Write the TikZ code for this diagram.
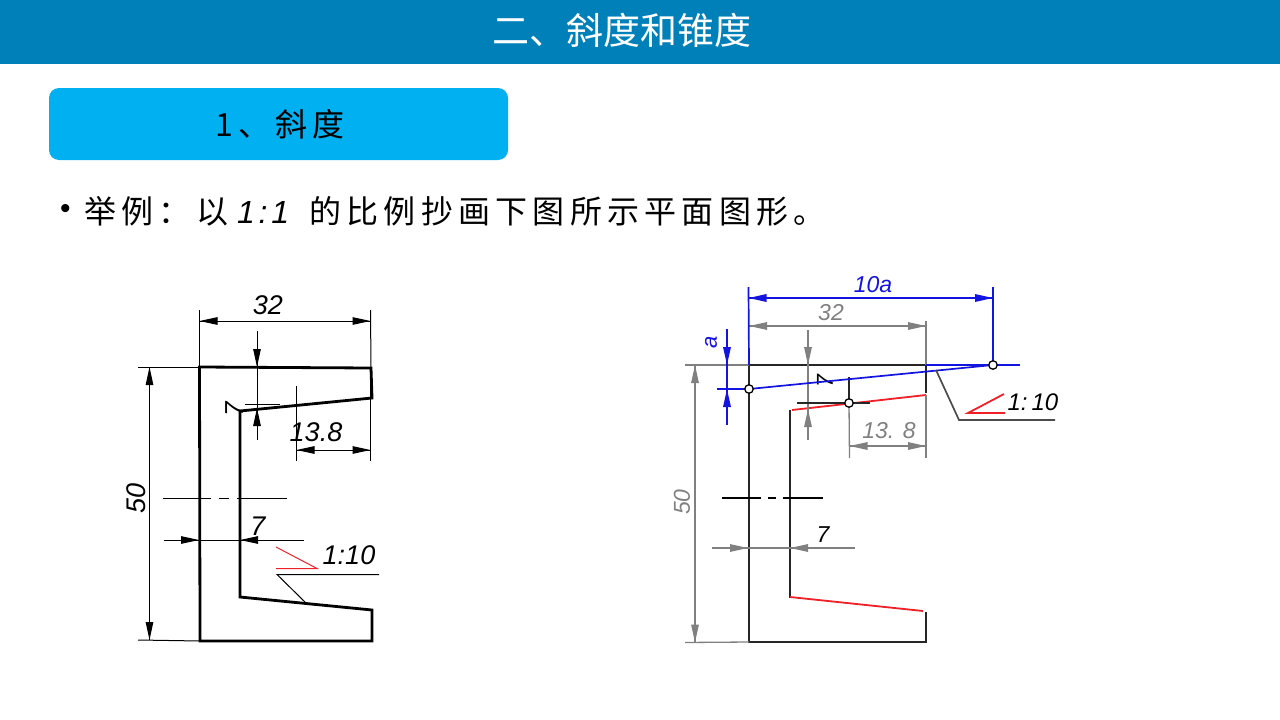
\documentclass[tikz,border=0pt]{standalone}
\usepackage{fontspec}
\setmainfont{Liberation Sans}
\newfontfamily\cjk{Noto Sans CJK SC}
\newfontfamily\cjkwide[LetterSpace=16.5]{Noto Sans CJK SC}
\newfontfamily\latinwide[LetterSpace=12]{Liberation Sans}
\usetikzlibrary{arrows.meta}
\definecolor{barblue}{HTML}{0080B9}
\definecolor{boxblue}{HTML}{00B0F0}
\definecolor{dimgray}{HTML}{808080}
\definecolor{slopered}{HTML}{F02028}
\definecolor{guideblue}{HTML}{1414E0}
\tikzstyle{outline}=[line width=2.8pt,black,line join=miter]
\tikzstyle{thinline}=[line width=1pt,black]
\tikzstyle{tiponly}=[-{Triangle[length=18pt,width=7.5pt]}]
\tikzstyle{graydim}=[line width=1.3pt,dimgray]
\tikzstyle{bluedim}=[line width=1.7pt,guideblue]
\tikzstyle{plainline}=[line width=1.5pt,black!85]
\tikzstyle{redline}=[line width=1.8pt,slopered]
\tikzstyle{dimtext}=[font=\itshape\fontsize{27}{27}\selectfont,inner sep=0pt]
\tikzstyle{smalltext}=[font=\itshape\fontsize{23}{23}\selectfont,inner sep=0pt]
\tikzstyle{pointmark}=[circle,draw=black,fill=white,line width=1.3pt,minimum size=8.5pt,inner sep=0pt]

\begin{document}
\begin{tikzpicture}[x=1pt,y=-1pt]
\useasboundingbox (0,0) rectangle (1280,720);
\node[fill=barblue,minimum width=1280pt,minimum height=64pt,inner sep=0pt] at (640,32) (bar) {};
\node[text=white,font=\cjk\fontsize{37}{37}\selectfont] at (622,30) (title) {二、斜度和锥度};
\node[fill=boxblue,rounded corners=10pt,minimum width=459pt,minimum height=72pt,inner sep=0pt] at (278.5,124) (box) {};
\node[font=\cjkwide\fontsize{32}{32}\selectfont] at (280,124) (section) {1、斜度};
\node[inner sep=0pt,font=\fontsize{30}{30}\selectfont] at (65.5,211) (bullet) {•};
\node[anchor=west,inner sep=0pt,font=\cjkwide\fontsize{32}{32}\selectfont] at (84,211) (sentence) {举例：以\hspace{9pt}{\latinwide\itshape 1:1}\hspace{20pt}的比例抄画下图所示平面图形。};

\coordinate (la) at (199.5,367);
\coordinate (lb) at (371,368);
\coordinate (lc) at (372,398);
\coordinate (ld) at (240,411);
\coordinate (le) at (240,597);
\coordinate (lf) at (372,610);
\coordinate (lg) at (372,641);
\coordinate (lh) at (200,641);
\draw[outline] (la) -- (lb) -- (lc) -- (ld) -- (le) -- (lf) -- (lg) -- (lh) -- cycle;

\coordinate (top1) at (199.5,310);
\coordinate (top2) at (370.5,310);
\coordinate (dim1) at (199.5,321);
\coordinate (dim2) at (370.5,321);
\coordinate (dim1b) at (217.5,321);
\coordinate (dim2b) at (352.5,321);
\draw[thinline] (top1) -- (la);
\draw[thinline] (top2) -- (lb);
\draw[thinline] (dim1) -- (dim2);
\draw[thinline,tiponly] (dim1b) -- (dim1);
\draw[thinline,tiponly] (dim2b) -- (dim2);
\node[dimtext] at (268,305) (l32) {32};

\coordinate (th1) at (257,331);
\coordinate (th2) at (257,440);
\coordinate (th1b) at (257,349);
\coordinate (th1t) at (257,367);
\coordinate (th2b) at (257,423);
\coordinate (th2t) at (257,408);
\coordinate (thx1) at (245,404);
\coordinate (thx2) at (280,404);
\draw[thinline] (th1) -- (th2);
\draw[thinline,tiponly] (th1b) -- (th1t);
\draw[thinline,tiponly] (th2b) -- (th2t);
\draw[thinline] (thx1) -- (thx2);
\node[font=\itshape\fontsize{26}{26}\selectfont,inner sep=0pt,rotate=90] at (235,409) (lseven) {7};

\coordinate (m1) at (296.5,386);
\coordinate (m2) at (296.5,461);
\coordinate (m3) at (370.5,368);
\coordinate (m4) at (370.5,461);
\coordinate (m5) at (296.5,450);
\coordinate (m6) at (370.5,450);
\coordinate (m5b) at (314.5,450);
\coordinate (m6b) at (352.5,450);
\draw[thinline] (m1) -- (m2);
\draw[thinline] (m3) -- (m4);
\draw[thinline] (m5) -- (m6);
\draw[thinline,tiponly] (m5b) -- (m5);
\draw[thinline,tiponly] (m6b) -- (m6);
\node[dimtext] at (316,432) (l138) {13.8};

\coordinate (h1) at (138,367);
\coordinate (h2) at (138,640);
\coordinate (h3) at (149.5,367);
\coordinate (h4) at (149.5,640);
\coordinate (h3b) at (149.5,385);
\coordinate (h4b) at (149.5,622);
\draw[thinline] (h1) -- (la);
\draw[thinline] (h2) -- (lh);
\draw[thinline] (h3) -- (h4);
\draw[thinline,tiponly] (h3b) -- (h3);
\draw[thinline,tiponly] (h4b) -- (h4);
\node[dimtext,rotate=90] at (136,498) (l50) {50};

\coordinate (c1) at (163,498.5);
\coordinate (c2) at (211,498.5);
\coordinate (c3) at (219,498.5);
\coordinate (c4) at (229,498.5);
\coordinate (c5) at (237,498.5);
\coordinate (c6) at (287,498.5);
\draw[thinline] (c1) -- (c2);
\draw[thinline] (c3) -- (c4);
\draw[thinline] (c5) -- (c6);

\coordinate (w1) at (164,540);
\coordinate (w2) at (304,540);
\coordinate (w3b) at (182,540);
\coordinate (w3) at (199,540);
\coordinate (w4b) at (257,540);
\coordinate (w4) at (240,540);
\draw[thinline] (w1) -- (w2);
\draw[thinline,tiponly] (w3b) -- (w3);
\draw[thinline,tiponly] (w4b) -- (w4);
\node[dimtext] at (258,526) (lwidth) {7};

\coordinate (s1) at (276,547);
\coordinate (s2) at (317,568.5);
\coordinate (s3) at (276,568.5);
\coordinate (s4) at (277,574.5);
\coordinate (s5) at (379,574.5);
\coordinate (s6) at (306,603);
\draw[line width=1pt,slopered] (s1) -- (s2) -- (s3);
\draw[thinline] (s6) -- (s4) -- (s5);
\node[dimtext] at (349,555) (lslope) {1:10};

\coordinate (ra) at (749,365);
\coordinate (rb) at (926,365);
\coordinate (rc) at (926,393);
\coordinate (rd) at (792,410);
\coordinate (rc2) at (926,395);
\coordinate (re) at (790,410);
\coordinate (rf) at (790,598);
\coordinate (rf2) at (790,597);
\coordinate (rg) at (923,611);
\coordinate (rh) at (926,612);
\coordinate (ri) at (926,642);
\coordinate (rj) at (749,642);
\draw[plainline] (ra) -- (rb) -- (rc);
\draw[plainline] (re) -- (rf);
\draw[plainline] (rh) -- (ri) -- (rj) -- (ra);
\draw[redline] (rd) -- (rc2);
\draw[redline] (rf2) -- (rg);

\coordinate (r1) at (926,321);
\coordinate (r2) at (749,326);
\coordinate (r3) at (926,326);
\coordinate (r2b) at (767,326);
\coordinate (r3b) at (908,326);
\draw[graydim] (r1) -- (rb);
\draw[graydim] (r2) -- (r3);
\draw[graydim,tiponly] (r2b) -- (r2);
\draw[graydim,tiponly] (r3b) -- (r3);
\node[smalltext,text=dimgray] at (831,313) (r32) {32};

\coordinate (t1) at (808,330);
\coordinate (t2) at (808,440);
\coordinate (t1b) at (808,347);
\coordinate (t1t) at (808,365);
\coordinate (t2b) at (808,427);
\coordinate (t2t) at (808,409);
\draw[graydim] (t1) -- (t2);
\draw[graydim,tiponly] (t1b) -- (t1t);
\draw[graydim,tiponly] (t2b) -- (t2t);
\node[font=\itshape\fontsize{23}{23}\selectfont,inner sep=0pt,rotate=90] at (825,381) (rseven) {7};

\coordinate (n0) at (849,377);
\coordinate (n1) at (849,403);
\coordinate (n2) at (797,403);
\coordinate (n3) at (870,403);
\draw[plainline] (n2) -- (n3);
\draw[plainline] (n0) -- (n1);

\coordinate (u1) at (849.5,458);
\coordinate (u2) at (926,458);
\coordinate (u3) at (849.5,446);
\coordinate (u4) at (926,446);
\coordinate (u3b) at (867.5,446);
\coordinate (u4b) at (908,446);
\draw[graydim] (n1) -- (u1);
\draw[graydim] (rc2) -- (u2);
\draw[graydim] (u3) -- (u4);
\draw[graydim,tiponly] (u3b) -- (u3);
\draw[graydim,tiponly] (u4b) -- (u4);
\node[smalltext,text=dimgray] at (889,431) (r138) {13. 8};

\coordinate (v1) at (685,365);
\coordinate (v2) at (685,642.5);
\coordinate (v3) at (695,365);
\coordinate (v4) at (695,642.5);
\coordinate (v3b) at (695,383);
\coordinate (v4b) at (695,624.5);
\draw[graydim] (v1) -- (ra);
\draw[graydim] (v2) -- (rj);
\draw[graydim] (v3) -- (v4);
\draw[graydim,tiponly] (v3b) -- (v3);
\draw[graydim,tiponly] (v4b) -- (v4);
\node[smalltext,text=dimgray,rotate=90] at (682,502) (r50) {50};

\coordinate (q1) at (722,498);
\coordinate (q2) at (761,498);
\coordinate (q3) at (768,498);
\coordinate (q4) at (776,498);
\coordinate (q5) at (783,498);
\coordinate (q6) at (823,498);
\draw[line width=1.5pt] (q1) -- (q2);
\draw[line width=1.5pt] (q3) -- (q4);
\draw[line width=1.5pt] (q5) -- (q6);

\coordinate (k1) at (712,548);
\coordinate (k2) at (855,548);
\coordinate (k3b) at (729,548);
\coordinate (k3) at (748,548);
\coordinate (k4b) at (807,548);
\coordinate (k4) at (790,548);
\draw[graydim] (k1) -- (k2);
\draw[graydim,tiponly] (k3b) -- (k3);
\draw[graydim,tiponly] (k4b) -- (k4);
\node[smalltext] at (823,535) (rwidth) {7};

\coordinate (g1) at (748.5,287);
\coordinate (g2) at (993,287);
\coordinate (g3) at (748.5,298);
\coordinate (g4) at (993,298);
\coordinate (g3b) at (766.5,298);
\coordinate (g4b) at (975,298);
\coordinate (g5) at (749,389);
\coordinate (g6) at (993,365);
\coordinate (g7) at (1020,365);
\draw[bluedim] (g1) -- (ra);
\draw[bluedim] (g2) -- (g6);
\draw[bluedim] (g3) -- (g4);
\draw[bluedim,tiponly] (g3b) -- (g3);
\draw[bluedim,tiponly] (g4b) -- (g4);
\draw[bluedim] (g5) -- (g6);
\draw[bluedim] (rb) -- (g7);
\node[smalltext,text=guideblue] at (873,285) (r10a) {10a};

\coordinate (p1) at (727,329);
\coordinate (p2) at (727,425);
\coordinate (p1b) at (727,347);
\coordinate (p1t) at (727,365);
\coordinate (p2b) at (727,407);
\coordinate (p2t) at (727,389);
\coordinate (p3) at (717,389);
\draw[bluedim] (p1) -- (p2);
\draw[bluedim,tiponly] (p1b) -- (p1t);
\draw[bluedim,tiponly] (p2b) -- (p2t);
\draw[bluedim] (p3) -- (g5);
\node[font=\itshape\fontsize{22}{22}\selectfont,text=guideblue,inner sep=0pt,rotate=90] at (711,342) (ra1) {a};

\node[pointmark] at (g5) (mark1) {};
\node[pointmark] at (n1) (mark2) {};
\node[pointmark] at (g6) (mark3) {};

\coordinate (y1) at (936,370);
\coordinate (y2) at (959,420);
\coordinate (y3) at (1055,420);
\coordinate (y4) at (1004,394);
\coordinate (y5) at (968,413);
\coordinate (y6) at (1005,413);
\draw[line width=1.7pt,black!70] (y1) -- (y2) -- (y3);
\draw[redline] (y4) -- (y5) -- (y6);
\node[font=\itshape\fontsize{24}{24}\selectfont,inner sep=0pt] at (1033,402) (rslope) {1:\,10};
\end{tikzpicture}
\end{document}
